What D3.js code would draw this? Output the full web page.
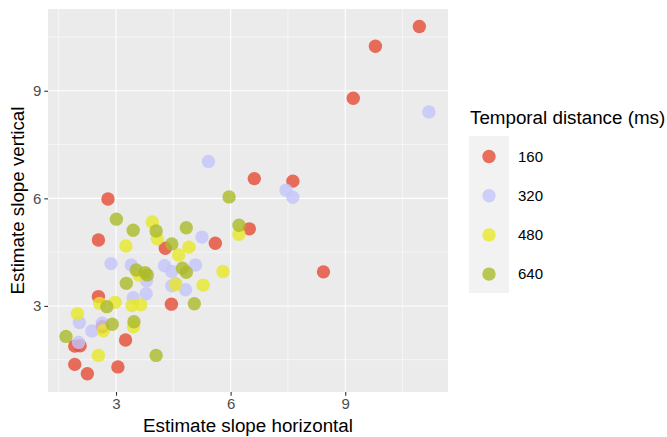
<!DOCTYPE html>
<html>
<head>
<meta charset="utf-8">
<script src="https://cdn.jsdelivr.net/npm/d3@7"></script>
<style>
	body { margin: 0; background: #fff; }
	text { font-family: "Liberation Sans", Arial, sans-serif; }
</style>
</head>
<body>
<svg id="chart" width="667" height="437"></svg>
<script>
// estimate slope horizontal / vertical, one list per temporal distance
const dist160 = [[10.94, 10.79], [9.79, 10.24], [9.21, 8.79], [6.62, 6.55], [7.63, 6.48],
	[2.79, 5.98], [6.49, 5.15], [8.43, 3.95], [5.60, 4.75], [2.54, 4.84], [4.29, 4.61],
	[4.45, 3.05], [2.54, 3.26], [2.64, 2.42], [1.92, 1.88], [2.06, 1.89], [3.25, 2.05],
	[1.92, 1.37], [2.25, 1.11], [3.05, 1.30]];
const dist320 = [[5.42, 7.03], [11.19, 8.41], [7.45, 6.23], [7.63, 6.03], [5.25, 4.92],
	[2.87, 4.18], [3.40, 4.14], [4.27, 4.12], [4.46, 3.96], [5.08, 4.14], [3.80, 3.70],
	[4.46, 3.56], [4.82, 3.45], [3.79, 3.34], [3.45, 3.23], [2.04, 2.54], [2.37, 2.30],
	[2.64, 2.52], [2.02, 1.98], [4.56, 3.62]];
const dist480 = [[3.95, 5.34], [4.08, 4.87], [6.22, 5.00], [3.26, 4.67], [4.91, 4.64],
	[4.64, 4.42], [3.60, 3.86], [5.80, 3.96], [4.56, 3.60], [5.28, 3.58], [3.65, 3.03],
	[2.57, 3.07], [2.98, 3.10], [1.99, 2.78], [2.67, 2.31], [3.46, 2.42], [2.54, 1.62],
	[3.42, 3.01]];
const dist640 = [[5.96, 6.04], [3.01, 5.42], [3.45, 5.11], [4.05, 5.09], [4.84, 5.18],
	[6.22, 5.25], [4.46, 4.73], [3.53, 4.00], [3.76, 3.93], [3.82, 3.86], [4.74, 4.05],
	[4.84, 3.94], [3.27, 3.63], [5.05, 3.06], [2.76, 2.98], [2.90, 2.49], [3.47, 2.56],
	[1.69, 2.15], [4.05, 1.62]];

const groups = ["160", "320", "480", "640"];
const groupData = [dist160, dist320, dist480, dist640];
const groupColors = ["#E64B35", "#C4C4FB", "#E7E729", "#ABBA29"];

const xTicks = [3, 6, 9];
const yTicks = [3, 6, 9];
const xMinor = [1.5, 4.5, 7.5, 10.5];
const yMinor = [1.5, 4.5, 7.5, 10.5];

const svg = d3.select("#chart");
const panel = {left: 48, top: 9, right: 448, bottom: 392};

const xScale = d3.scaleLinear().domain([1.22, 11.69]).range([panel.left, panel.right]);
const yScale = d3.scaleLinear().domain([0.6, 11.28]).range([panel.bottom, panel.top]);

// panel background
svg.append("rect")
	.attr("x", panel.left).attr("y", panel.top)
	.attr("width", panel.right - panel.left).attr("height", panel.bottom - panel.top)
	.attr("fill", "#EBEBEB");

// grid lines, minor first
const grid = svg.append("g").attr("stroke", "#fff");
grid.selectAll(".xminor").data(xMinor).enter().append("line")
	.attr("x1", d => xScale(d)).attr("x2", d => xScale(d))
	.attr("y1", panel.top).attr("y2", panel.bottom)
	.attr("stroke-width", 0.55);
grid.selectAll(".yminor").data(yMinor).enter().append("line")
	.attr("y1", d => yScale(d)).attr("y2", d => yScale(d))
	.attr("x1", panel.left).attr("x2", panel.right)
	.attr("stroke-width", 0.55);
grid.selectAll(".xmajor").data(xTicks).enter().append("line")
	.attr("x1", d => xScale(d)).attr("x2", d => xScale(d))
	.attr("y1", panel.top).attr("y2", panel.bottom)
	.attr("stroke-width", 1.1);
grid.selectAll(".ymajor").data(yTicks).enter().append("line")
	.attr("y1", d => yScale(d)).attr("y2", d => yScale(d))
	.attr("x1", panel.left).attr("x2", panel.right)
	.attr("stroke-width", 1.1);

// points
groupData.forEach(function(points, i) {
	svg.append("g").selectAll("circle").data(points).enter()
		.append("circle")
		.attr("cx", d => xScale(d[0]))
		.attr("cy", d => yScale(d[1]))
		.attr("r", 6.7)
		.attr("fill", groupColors[i])
		.attr("fill-opacity", 0.8);
});

// axes
const xAxis = svg.append("g")
	.attr("transform", `translate(0,${panel.bottom})`)
	.call(d3.axisBottom(xScale).tickValues(xTicks).tickSize(3.7).tickPadding(3));
const yAxis = svg.append("g")
	.attr("transform", `translate(${panel.left},0)`)
	.call(d3.axisLeft(yScale).tickValues(yTicks).tickSize(3.7).tickPadding(3));
[xAxis, yAxis].forEach(function(ax) {
	ax.select(".domain").remove();
	ax.selectAll(".tick line").attr("stroke", "#333").attr("stroke-width", 1.1);
	ax.selectAll(".tick text")
		.attr("fill", "#4D4D4D")
		.style("font-size", "15px")
		.style("font-family", "'Liberation Sans', Arial, sans-serif");
});

// axis titles
svg.append("text")
	.attr("x", (panel.left + panel.right) / 2).attr("y", 432)
	.attr("text-anchor", "middle")
	.style("font-size", "18.8px")
	.text("Estimate slope horizontal");
svg.append("text")
	.attr("transform", `translate(24,${(panel.top + panel.bottom) / 2}) rotate(-90)`)
	.attr("text-anchor", "middle")
	.style("font-size", "18.8px")
	.text("Estimate slope vertical");

// legend
const legend = svg.append("g");
legend.append("text")
	.attr("x", 470).attr("y", 124)
	.style("font-size", "18.8px")
	.text("Temporal distance (ms)");
legend.append("rect")
	.attr("x", 469).attr("y", 136).attr("width", 40).attr("height", 157)
	.attr("fill", "#F2F2F2");
const keys = legend.selectAll(".key").data(groups).enter().append("g")
	.attr("transform", (d, i) => `translate(489,${156.5 + i * 39.2})`);
keys.append("circle")
	.attr("r", 6.7)
	.attr("fill", (d, i) => groupColors[i])
	.attr("fill-opacity", 0.8);
keys.append("text")
	.attr("x", 29).attr("dy", "0.35em")
	.style("font-size", "15px")
	.text(d => d);
</script>
</body>
</html>
